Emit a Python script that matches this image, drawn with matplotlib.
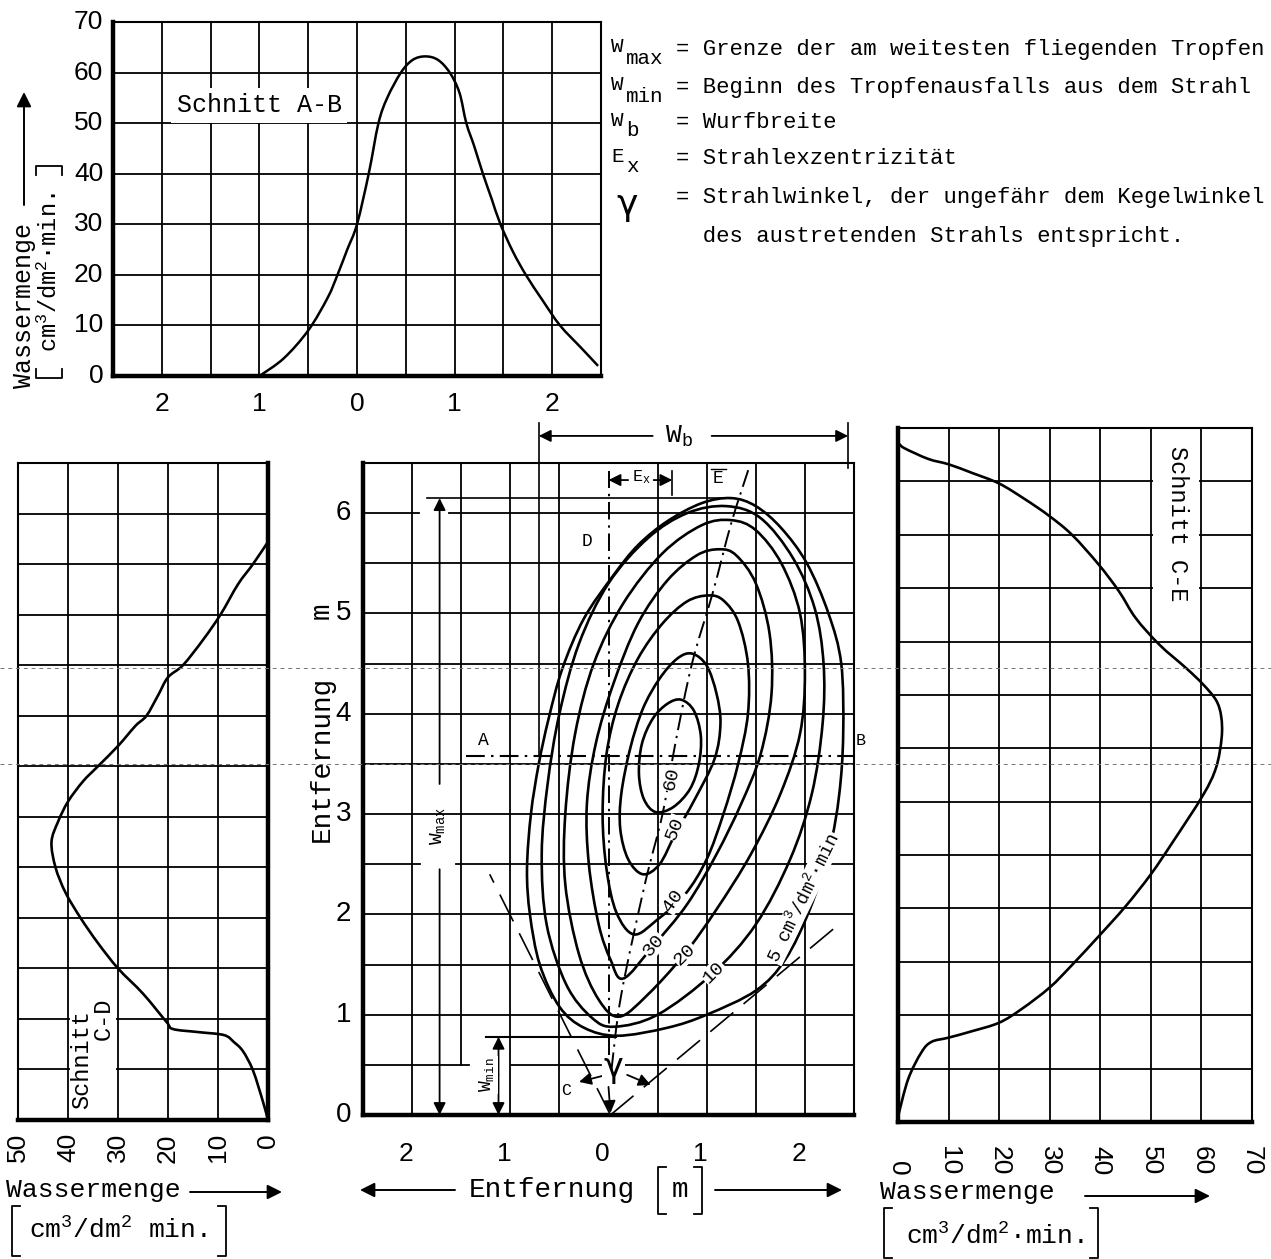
import numpy as np
import matplotlib.pyplot as plt
from matplotlib.path import Path
from matplotlib.patches import PathPatch, Rectangle, FancyArrowPatch
from matplotlib.lines import Line2D

plt.rcParams['font.family'] = ['Liberation Mono', 'DejaVu Sans']
plt.rcParams['mathtext.fontset'] = 'custom'
plt.rcParams['mathtext.rm'] = 'Liberation Mono'
plt.rcParams['mathtext.it'] = 'Liberation Mono'
plt.rcParams['mathtext.bf'] = 'Liberation Mono'

SANS = 'Liberation Sans'
W, H = 1271, 1259

# ---------------- data ----------------
# Schnitt A-B : Entfernung [m] / Wassermenge
ab_dist = [-1.0, -0.75, -0.5, -0.3, -0.2, -0.1, 0.0, 0.12, 0.22, 0.31, 0.45, 0.57, 0.7,
           0.83, 0.95, 1.05, 1.12, 1.2, 1.29, 1.38, 1.47, 1.6, 1.73, 1.9, 2.08, 2.3, 2.47]
ab_water = [0, 3.5, 9, 15.5, 20, 25, 30, 40, 50, 55, 60, 62.5, 63.2,
            62.5, 60, 56, 50, 45.5, 40, 35, 30, 24.5, 20, 15, 10, 5.5, 2]

# Schnitt C-D : Wassermenge / Entfernung [m]
cd_water = [0, 1, 3, 5, 6.8, 8.8, 14, 19, 20.3, 25, 30, 34, 37.5, 40.5, 42.5, 43.3, 42,
            40, 37, 34, 30, 26.5, 24.3, 22, 20, 17, 13, 9.5, 6, 3, 0]
cd_dist = [0, 0.18, 0.49, 0.68, 0.77, 0.84, 0.87, 0.9, 0.97, 1.25, 1.5, 1.75, 2.0, 2.25, 2.5,
           2.75, 2.95, 3.15, 3.35, 3.5, 3.7, 3.9, 4.0, 4.2, 4.38, 4.5, 4.75, 5.0, 5.3, 5.5, 5.72]

# Schnitt C-E : Wassermenge / Entfernung
ce_water = [0, 2, 4.6, 6.6, 10, 14.6, 20, 24.5, 30, 34.4, 39.7, 45, 50, 54.3, 60.3, 62.9,
            64.0, 63.9, 62.9, 60.3, 57, 51.7, 47, 43.7, 39.7, 34.4, 29.8, 25.2, 20, 14.6,
            10, 6, 1.3, 0.3]
ce_dist = [0.05, 0.4, 0.65, 0.75, 0.79, 0.85, 0.93, 1.06, 1.26, 1.47, 1.74, 2.02, 2.32, 2.62,
           3.06, 3.32, 3.6, 3.8, 3.95, 4.1, 4.25, 4.47, 4.72, 4.97, 5.22, 5.5, 5.68, 5.83,
           5.98, 6.08, 6.16, 6.21, 6.31, 6.35]

# Linien gleicher Wassermenge (x [m], y [m])
contour_levels = [5, 10, 20, 30, 40, 50, 60]
contour_5 = [(0.09, 0.79), (0.6, 0.87), (1.0, 1.0), (1.5, 1.24), (1.8, 1.55), (2.05, 2.05),
             (2.25, 2.65), (2.35, 3.2), (2.39, 3.8), (2.37, 4.5), (2.24, 5.0), (2.02, 5.5),
             (1.76, 5.85), (1.5, 6.07), (1.25, 6.15), (0.95, 6.1), (0.6, 5.92), (0.3, 5.68),
             (0.05, 5.38), (-0.25, 4.95), (-0.47, 4.45), (-0.61, 3.95), (-0.71, 3.5),
             (-0.79, 3.0), (-0.83, 2.45), (-0.8, 2.0), (-0.7, 1.5), (-0.5, 1.08), (-0.25, 0.87)]
contour_10 = [(0.06, 0.88), (0.5, 1.0), (1.06, 1.41), (1.5, 1.9), (1.85, 2.55), (2.07, 3.2),
              (2.18, 3.9), (2.19, 4.5), (2.1, 5.05), (1.88, 5.55), (1.55, 5.95), (1.2, 6.07),
              (0.8, 6.0), (0.4, 5.75), (0.0, 5.3), (-0.3, 4.7), (-0.5, 4.0), (-0.62, 3.3),
              (-0.68, 2.6), (-0.63, 1.9), (-0.43, 1.3), (-0.17, 0.97)]
contour_20 = [(0.11, 0.98), (0.4, 1.2), (0.77, 1.6), (1.1, 2.05), (1.45, 2.6), (1.75, 3.2),
              (1.95, 3.8), (2.0, 4.4), (1.95, 5.0), (1.76, 5.5), (1.5, 5.83), (1.25, 5.93),
              (0.95, 5.88), (0.55, 5.6), (0.15, 5.1), (-0.15, 4.5), (-0.34, 3.8), (-0.44, 3.0),
              (-0.44, 2.3), (-0.3, 1.6), (-0.1, 1.15)]
contour_30 = [(0.15, 1.36), (0.45, 1.68), (0.8, 2.1), (1.1, 2.6), (1.35, 3.1), (1.55, 3.6),
              (1.66, 4.2), (1.64, 4.8), (1.5, 5.3), (1.3, 5.58), (1.13, 5.64), (0.9, 5.58),
              (0.6, 5.33), (0.3, 4.9), (0.05, 4.3), (-0.13, 3.7), (-0.22, 3.1), (-0.2, 2.5),
              (-0.1, 1.9), (0.02, 1.55)]
contour_40 = [(0.26, 1.8), (0.5, 1.95), (0.78, 2.2), (1.0, 2.55), (1.17, 3.0), (1.32, 3.5),
              (1.42, 4.0), (1.42, 4.5), (1.32, 4.92), (1.17, 5.13), (1.02, 5.18), (0.8, 5.12),
              (0.55, 4.9), (0.3, 4.55), (0.1, 4.1), (-0.02, 3.6), (-0.06, 3.0), (-0.02, 2.45),
              (0.08, 2.02)]
contour_50 = [(0.35, 2.4), (0.52, 2.5), (0.68, 2.8), (0.88, 3.15), (1.08, 3.55), (1.14, 3.9),
              (1.1, 4.2), (1.0, 4.48), (0.85, 4.6), (0.7, 4.55), (0.52, 4.35), (0.35, 4.05),
              (0.22, 3.65), (0.13, 3.2), (0.12, 2.85), (0.2, 2.55)]
contour_60 = [(0.48, 3.02), (0.36, 3.15), (0.31, 3.4), (0.34, 3.7), (0.45, 3.95), (0.6, 4.1),
              (0.74, 4.14), (0.87, 4.03), (0.94, 3.78), (0.92, 3.5), (0.83, 3.25), (0.66, 3.07)]
contours = [contour_5, contour_10, contour_20, contour_30, contour_40, contour_50, contour_60]

# Strahlachse C-E
beam_axis = [(0.03, 0.45), (0.13, 1.2), (0.37, 2.3), (0.55, 3.0), (0.68, 3.7), (0.85, 4.5),
             (1.06, 5.2), (1.25, 5.9), (1.43, 6.45)]

# Bemassung
wb_left, wb_right = -0.71, 2.44
wmax_top = 6.15
wmin_top = 0.78
ex_right = 0.65
ab_line_y = 3.58
gamma_apex = (0.02, 0.0)
gamma_left_end = (-1.21, 2.4)
gamma_right_end = (2.37, 1.92)


# ---------------- helpers ----------------
def rect(x0, y0, x1, y1):
    return [x0 / W, 1 - y1 / H, (x1 - x0) / W, (y1 - y0) / H]


def fp(x, y):
    return (x / W, 1 - y / H)


def smooth(pts, closed=False):
    P = np.asarray(pts, float)
    if closed:
        P = np.vstack([P[-1], P, P[0], P[1]])
    else:
        P = np.vstack([P[0], P, P[-1]])
    verts, codes = [P[1]], [Path.MOVETO]
    for i in range(1, len(P) - 2):
        p0, p1, p2, p3 = P[i - 1], P[i], P[i + 1], P[i + 2]
        verts += [p1 + (p2 - p0) / 6, p2 - (p3 - p1) / 6, p2]
        codes += [Path.CURVE4] * 3
    return Path(verts, codes)


def curve(ax, pts, closed=False, lw=1.9, **kw):
    ax.add_patch(PathPatch(smooth(pts, closed), fill=False, lw=lw, ec='k',
                           zorder=4, **kw))


def frame(ax, xlim, ylim, xgrid, ygrid, thick=()):
    ax.set_xlim(*xlim)
    ax.set_ylim(*ylim)
    for x in xgrid:
        ax.axvline(x, color='k', lw=1.3, zorder=1)
    for y in ygrid:
        ax.axhline(y, color='k', lw=1.3, zorder=1)
    for side, sp in ax.spines.items():
        sp.set_linewidth(3.2 if side in thick else 1.5)
        sp.set_zorder(5)
    ax.tick_params(length=0)
    ax.set_xticks([])
    ax.set_yticks([])


def fline(xs, ys, lw=1.3):
    fig.add_artist(Line2D([x / W for x in xs], [1 - y / H for y in ys],
                          color='k', lw=lw, transform=fig.transFigure))


def farrow(x0, y0, x1, y1):
    fig.add_artist(FancyArrowPatch(
        fp(x0, y0), fp(x1, y1), transform=fig.transFigure, arrowstyle='-|>',
        mutation_scale=22, color='k', lw=1.4, shrinkA=0, shrinkB=0))


def bracket_v(x, y0, y1, d):
    fline([x + d, x, x, x + d], [y0, y0, y1, y1])


def bracket_h(y, x0, x1, d):
    fline([x0, x0, x1, x1], [y + d, y, y, y + d])


fig = plt.figure(figsize=(W / 100, H / 100), dpi=100)

# ================= Schnitt A-B (oben) =================
ax = fig.add_axes(rect(113, 22, 601, 376))
frame(ax, (-2.5, 2.5), (0, 70), np.arange(-2.0, 2.5, 0.5), range(10, 70, 10),
      thick=('left', 'bottom'))
curve(ax, list(zip(ab_dist, ab_water)), lw=1.8)
for v, lab in zip([-2, -1, 0, 1, 2], ['2', '1', '0', '1', '2']):
    ax.text(v, -3.2, lab, ha='center', va='top', fontsize=19, family=SANS)
for v in range(0, 80, 10):
    ax.text(-2.6, v, str(v), ha='right', va='center', fontsize=19, family=SANS)
ax.text(-1.0, 53.5, 'Schnitt A-B', ha='center', va='center', fontsize=18, zorder=3,
        bbox=dict(fc='white', ec='none', pad=4))
fig.text(*fp(24, 305), 'Wassermenge', rotation=90, ha='center', va='center', fontsize=18)
farrow(24, 205, 24, 92)
fig.text(*fp(50, 272), r'cm$^3$/dm$^2$·min.', rotation=90, ha='center', va='center',
         fontsize=17)
bracket_h(378, 36, 62, -9)
bracket_h(166, 36, 62, 9)

# ================= Legende =================
leg = [('W', 'max', '= Grenze der am weitesten fliegenden Tropfen', 50),
       ('W', 'min', '= Beginn des Tropfenausfalls aus dem Strahl', 88),
       ('W', 'b', '= Wurfbreite', 123),
       ('E', 'x', '= Strahlexzentrizität', 159),
       ('', '', '= Strahlwinkel, der ungefähr dem Kegelwinkel', 197),
       ('', '', '  des austretenden Strahls entspricht.', 237)]
for sym, sub, txt, y in leg:
    if sym:
        fig.text(*fp(611, y - 3), sym, ha='left', va='center', fontsize=15)
        fig.text(*fp(626, y + 8), sub, ha='left', va='center', fontsize=15)
    fig.text(*fp(676, y), txt, ha='left', va='center', fontsize=16)
fig.text(*fp(627, 205), 'γ', ha='center', va='center', fontsize=26, family='DejaVu Sans')

# ================= Schnitt C-D (links) =================
ax = fig.add_axes(rect(18, 463, 268, 1120))
frame(ax, (50, 0), (0, 6.5), [40, 30, 20, 10], np.arange(0.5, 6.5, 0.5),
      thick=('right', 'bottom'))
ax.add_patch(Rectangle((39.6, 0.03), -9.2, 1.17, fc='white', ec='none', zorder=2))
curve(ax, list(zip(cd_water, cd_dist)), lw=1.9)
for v in [50, 40, 30, 20, 10, 0]:
    ax.text(v, -0.02, str(v), rotation=90, ha='center', va='top', fontsize=19, family=SANS,
            transform=ax.get_xaxis_transform(), clip_on=False)
ax.text(37.3, 0.6, 'Schnitt', rotation=90, ha='center', va='center', fontsize=17, zorder=3)
ax.text(33.0, 1.0, 'C-D', rotation=90, ha='center', va='center', fontsize=17, zorder=3)
fig.text(*fp(6, 1190), 'Wassermenge', ha='left', va='center', fontsize=19)
farrow(190, 1192, 282, 1192)
fig.text(*fp(118, 1230), r'cm$^3$/dm$^2$ min.', ha='center', va='center', fontsize=19)
bracket_v(12, 1206, 1256, 8)
bracket_v(226, 1206, 1256, -8)

# ================= Schnitt C-E (rechts) =================
ax = fig.add_axes(rect(898, 428, 1252, 1122))
frame(ax, (0, 70), (0, 6.5), range(10, 70, 10), np.arange(0.5, 6.5, 0.5),
      thick=('left', 'bottom'))
ax.add_patch(Rectangle((50.4, 4.62), 9.2, 1.86, fc='white', ec='none', zorder=2))
curve(ax, list(zip(ce_water, ce_dist)), lw=1.9)
for v in range(0, 80, 10):
    ax.text(v, -0.077, str(v), rotation=-90, ha='center', va='bottom', fontsize=19,
            family=SANS, transform=ax.get_xaxis_transform(), clip_on=False)
ax.text(55.2, 5.6, 'Schnitt C-E', rotation=-90, ha='center', va='center', fontsize=17,
        zorder=3)
fig.text(*fp(880, 1192), 'Wassermenge', ha='left', va='center', fontsize=19)
farrow(1085, 1196, 1210, 1196)
fig.text(*fp(995, 1236), r'cm$^3$/dm$^2$·min.', ha='center', va='center', fontsize=19)
bracket_v(884, 1208, 1258, 8)
bracket_v(1098, 1208, 1258, -8)

# ================= Hauptbild =================
ax = fig.add_axes(rect(363, 463, 854, 1115))
ax.set_xlim(-2.5, 2.5)
ax.set_ylim(0, 6.5)
ax.set_xticks([])
ax.set_yticks([])
for side, sp in ax.spines.items():
    sp.set_linewidth(3.2 if side in ('left', 'bottom') else 1.5)
    sp.set_zorder(5)

vgaps = {-1.5: [(0.5, 6.5)], 0.0: []}
hgaps = {0.5: [(-2.5, -1.42), (-0.99, -0.08), (0.17, 2.5)],
         2.5: [(-2.5, -1.92), (-1.55, 2.5)],
         6.0: [(-2.5, -1.93), (-1.62, 2.5)]}
for x in np.arange(-2.0, 2.5, 0.5):
    for y0, y1 in vgaps.get(round(x, 1), [(0, 6.5)]):
        ax.plot([x, x], [y0, y1], color='k', lw=1.3, zorder=1)
for y in np.arange(0.5, 6.5, 0.5):
    for x0, x1 in hgaps.get(round(y, 1), [(-2.5, 2.5)]):
        ax.plot([x0, x1], [y, y], color='k', lw=1.3, zorder=1)

for c in contours:
    curve(ax, c, closed=True, lw=1.9)

# Strahlachse, D-Linie, A-B-Linie
dashdot = (9, 3, 1.2, 3)
ax.add_patch(PathPatch(smooth(beam_axis), fill=False, lw=1.4, ec='k', zorder=4,
                       linestyle=(0, dashdot)))
ax.plot([0, 0], [0.6, 6.42], color='k', lw=1.4, dashes=dashdot, zorder=4)
ax.plot([-1.45, 2.5], [ab_line_y, ab_line_y], color='k', lw=1.5, dashes=dashdot, zorder=4)

# Strahlwinkel
for end in (gamma_left_end, gamma_right_end):
    ax.plot([gamma_apex[0], end[0]], [gamma_apex[1], end[1]], color='k', lw=1.2,
            dashes=(18, 8), zorder=4)

arr = dict(arrowstyle='-|>', color='k', lw=1.3, mutation_scale=18, shrinkA=0, shrinkB=0)
ax.annotate('', xy=(-0.3, 0.33), xytext=(-0.06, 0.39), arrowprops=arr)
ax.annotate('', xy=(0.43, 0.3), xytext=(0.19, 0.4), arrowprops=arr)
ax.annotate('', xy=(0.02, 0.02), xytext=(0.0, 0.28), arrowprops=arr)
ax.text(0.05, 0.47, 'γ', ha='center', va='center', fontsize=24, family='DejaVu Sans',
        zorder=3, bbox=dict(fc='white', ec='none', pad=1))
ax.text(-0.43, 0.24, 'C', ha='center', va='center', fontsize=12)

# Wurfbreite
ax.plot([wb_left, wb_left], [ab_line_y, 6.9], color='k', lw=1.2, clip_on=False, zorder=4)
ax.plot([wb_right, wb_right], [6.45, 6.9], color='k', lw=1.2, clip_on=False)
ax.annotate('', xy=(wb_left, 6.77), xytext=(0.45, 6.77), arrowprops=arr,
            annotation_clip=False)
ax.annotate('', xy=(wb_right, 6.77), xytext=(1.05, 6.77), arrowprops=arr,
            annotation_clip=False)
ax.text(0.72, 6.77, r'W$_{\rm b}$', ha='center', va='center', fontsize=19, clip_on=False)

# Exzentrizitaet
ax.annotate('', xy=(0.0, 6.33), xytext=(0.2, 6.33), arrowprops=arr)
ax.annotate('', xy=(ex_right, 6.33), xytext=(0.46, 6.33), arrowprops=arr)
ax.plot([ex_right, ex_right], [6.18, 6.42], color='k', lw=1.2)
ax.text(0.33, 6.36, r'E$_{\rm x}$', ha='center', va='center', fontsize=12)
ax.text(1.12, 6.35, 'E', ha='center', va='center', fontsize=13)
ax.plot([1.04, 1.2], [6.44, 6.44], color='k', lw=1.0)
ax.text(-0.22, 5.72, 'D', ha='center', va='center', fontsize=13)
ax.text(-1.27, 3.73, 'A', ha='center', va='center', fontsize=13)
ax.text(2.57, 3.73, 'B', ha='center', va='center', fontsize=12, clip_on=False)

# W_max
ax.plot([-1.85, 1.25], [wmax_top, wmax_top], color='k', lw=1.2, zorder=3)
ax.annotate('', xy=(-1.72, wmax_top), xytext=(-1.72, 3.3), arrowprops=arr)
ax.annotate('', xy=(-1.72, 0.0), xytext=(-1.72, 2.45), arrowprops=arr)
ax.text(-1.74, 2.88, r'W$_{\rm max}$', rotation=90, ha='center', va='center', fontsize=14)

# W_min
ax.plot([-1.25, 0.08], [wmin_top, wmin_top], color='k', lw=1.5, zorder=3)
ax.annotate('', xy=(-1.12, wmin_top), xytext=(-1.12, 0.4), arrowprops=arr)
ax.annotate('', xy=(-1.12, 0.0), xytext=(-1.12, 0.4), arrowprops=arr)
ax.text(-1.24, 0.4, r'W$_{\rm min}$', rotation=90, ha='center', va='center', fontsize=13,
        bbox=dict(fc='white', ec='none', pad=1))

# Beschriftung der Linien
labels = [('60', 0.64, 3.35, 78), ('50', 0.68, 2.86, 68), ('40', 0.66, 2.14, 55),
          ('30', 0.46, 1.69, 50), ('20', 0.78, 1.6, 45), ('10', 1.07, 1.42, 45)]
for txt, x, y, r in labels:
    ax.text(x, y, txt, rotation=r, ha='center', va='center', fontsize=14, zorder=6,
            bbox=dict(fc='white', ec='none', pad=0.5))
ax.text(1.98, 2.17, r'5 cm$^3$/dm$^2$·min', rotation=64, ha='center', va='center',
        fontsize=13.5, zorder=6, bbox=dict(fc='white', ec='none', pad=0.5))

# Achsenbeschriftung
for v in range(0, 7):
    ax.text(-2.62, v, str(v), ha='right', va='center', fontsize=20, family=SANS)
for v, lab in zip([-2, -1, 0, 1, 2], ['2', '1', '0', '1', '2']):
    ax.text(v - 0.06, -0.27, lab, ha='center', va='top', fontsize=19, family=SANS)
ax.text(-2.92, 3.55, 'Entfernung', rotation=90, ha='center', va='center', fontsize=20,
        clip_on=False)
ax.text(-2.92, 5.03, 'm', rotation=90, ha='center', va='center', fontsize=20, clip_on=False)
fig.text(*fp(552, 1190), 'Entfernung', ha='center', va='center', fontsize=20)
fig.text(*fp(680, 1190), 'm', ha='center', va='center', fontsize=20)
bracket_v(658, 1167, 1214, 8)
bracket_v(702, 1167, 1214, -8)
farrow(455, 1190, 360, 1190)
farrow(715, 1190, 842, 1190)

# Scan-Faltlinien
for y in (668, 764):
    fig.add_artist(Line2D([0, 1], [1 - y / H] * 2, color='0.45', lw=0.7,
                          dashes=(4, 4), transform=fig.transFigure))

fig.savefig('out.png', dpi=100, facecolor='white')
